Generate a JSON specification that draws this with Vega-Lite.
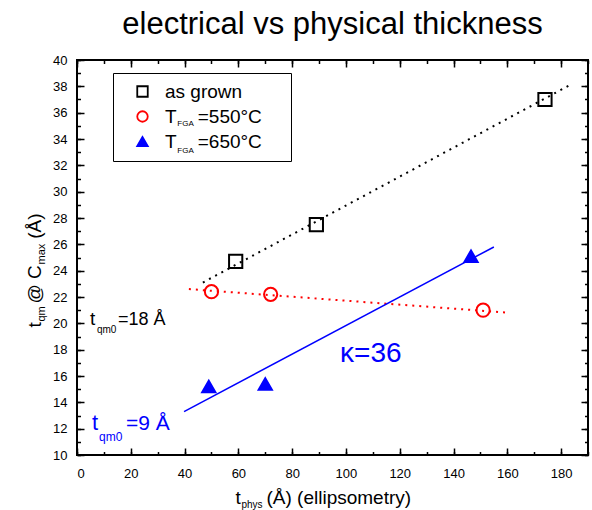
{
  "$schema": "https://vega.github.io/schema/vega-lite/v6.json",
  "autosize": {"type": "none"},
  "width": 511,
  "height": 395,
  "padding": {"left": 77, "top": 60, "right": 4, "bottom": 55},
  "background": "white",
  "title": {"text": "electrical vs physical thickness", "font": "Liberation Sans", "fontSize": 31, "fontWeight": "normal", "color": "black", "anchor": "middle", "baseline": "alphabetic", "offset": -11},
  "datasets": {
    "points": [
      {"series": "as grown", "phys": 59, "tqm": 24.7},
      {"series": "as grown", "phys": 89, "tqm": 27.5},
      {"series": "as grown", "phys": 174, "tqm": 37.0},
      {"series": "550", "phys": 50, "tqm": 22.4},
      {"series": "550", "phys": 72, "tqm": 22.2},
      {"series": "550", "phys": 151, "tqm": 21.0},
      {"series": "650", "phys": 49, "tqm": 15.2},
      {"series": "650", "phys": 70, "tqm": 15.4},
      {"series": "650", "phys": 146.5, "tqm": 25.1}
    ],
    "lines": [
      {"line": "as grown", "phys": 46.8, "tqm": 23.1},
      {"line": "as grown", "phys": 183.3, "tqm": 38.1},
      {"line": "550", "phys": 41.6, "tqm": 22.6},
      {"line": "550", "phys": 161, "tqm": 20.8},
      {"line": "650", "phys": 39.8, "tqm": 13.3},
      {"line": "650", "phys": 155, "tqm": 25.8}
    ],
    "one": [{"k": 1}],
    "subs": [
      {"sub": "FGA", "phys": 37.3, "tqm": 35.0},
      {"sub": "FGA", "phys": 37.3, "tqm": 32.95}
    ]
  },
  "config": {
    "view": {"stroke": "black", "strokeWidth": 2},
    "axis": {"domain": false, "grid": false, "tickColor": "black", "tickWidth": 1.5, "labelFont": "Liberation Sans", "labelFontSize": 13, "labelColor": "black", "labelOverlap": false, "titleFont": "Liberation Sans", "titleColor": "black", "titleFontWeight": "normal"},
    "text": {"font": "Liberation Sans"}
  },
  "resolve": {"axis": {"x": "independent", "y": "independent"}},
  "layer": [
    {
      "data": {"name": "lines"},
      "transform": [{"filter": "datum.line === 'as grown'"}],
      "mark": {"type": "line", "color": "black", "strokeWidth": 2, "strokeDash": [2, 5]},
      "encoding": {
        "x": {
          "field": "phys", "type": "quantitative",
          "scale": {"domain": [0, 190], "nice": false, "zero": false},
          "axis": {"orient": "bottom", "values": [0, 20, 40, 60, 80, 100, 120, 140, 160, 180], "tickSize": -7, "labelPadding": 19, "title": "t", "titleX": 158, "titleY": 48, "titleFontSize": 19, "titleAngle": 0, "titleAlign": "left", "titleBaseline": "alphabetic"}
        },
        "y": {
          "field": "tqm", "type": "quantitative",
          "scale": {"domain": [10, 40], "nice": false, "zero": false},
          "axis": {"orient": "left", "values": [10, 12, 14, 16, 18, 20, 22, 24, 26, 28, 30, 32, 34, 36, 38, 40], "tickSize": -7, "labelPadding": 17, "title": "t", "titleX": -37, "titleY": 267, "titleFontSize": 19, "titleAngle": 270, "titleAlign": "left", "titleBaseline": "alphabetic"}
        }
      }
    },
    {
      "data": {"name": "lines"},
      "transform": [{"filter": "datum.line === '550'"}],
      "mark": {"type": "line", "color": "#ff0000", "strokeWidth": 2, "strokeDash": [2, 5]},
      "encoding": {
        "x": {
          "field": "phys", "type": "quantitative",
          "scale": {"domain": [0, 190], "nice": false, "zero": false},
          "axis": {"orient": "bottom", "values": [0, 10, 20, 30, 40, 50, 60, 70, 80, 90, 100, 110, 120, 130, 140, 150, 160, 170, 180, 190], "tickSize": -3.5, "labels": false, "title": "phys", "titleX": 164, "titleY": 52, "titleFontSize": 10, "titleAngle": 0, "titleAlign": "left", "titleBaseline": "alphabetic"}
        },
        "y": {
          "field": "tqm", "type": "quantitative",
          "scale": {"domain": [10, 40], "nice": false, "zero": false},
          "axis": {"orient": "left", "values": [10, 11, 12, 13, 14, 15, 16, 17, 18, 19, 20, 21, 22, 23, 24, 25, 26, 27, 28, 29, 30, 31, 32, 33, 34, 35, 36, 37, 38, 39, 40], "tickSize": -3.5, "labels": false, "title": "qm", "titleX": -33, "titleY": 261, "titleFontSize": 11, "titleAngle": 270, "titleAlign": "left", "titleBaseline": "alphabetic"}
        }
      }
    },
    {
      "data": {"name": "lines"},
      "transform": [{"filter": "datum.line === '650'"}],
      "mark": {"type": "line", "color": "#0000ff", "strokeWidth": 1.5},
      "encoding": {
        "x": {
          "field": "phys", "type": "quantitative",
          "scale": {"domain": [0, 190], "nice": false, "zero": false},
          "axis": {"orient": "top", "values": [0, 20, 40, 60, 80, 100, 120, 140, 160, 180], "tickSize": -7, "labels": false, "title": "(Å) (ellipsometry)", "titleX": 189, "titleY": 443, "titleFontSize": 19, "titleAngle": 0, "titleAlign": "left", "titleBaseline": "alphabetic"}
        },
        "y": {
          "field": "tqm", "type": "quantitative",
          "scale": {"domain": [10, 40], "nice": false, "zero": false},
          "axis": {"orient": "right", "values": [10, 12, 14, 16, 18, 20, 22, 24, 26, 28, 30, 32, 34, 36, 38, 40], "tickSize": -7, "labels": false, "title": "@ C\u00a0\u00a0\u00a0\u00a0\u00a0(Å)", "titleX": -548, "titleY": 243, "titleFontSize": 19, "titleAngle": 270, "titleAlign": "left", "titleBaseline": "alphabetic"}
        }
      }
    },
    {
      "data": {"name": "points"},
      "mark": {"type": "point", "filled": false, "size": 175, "strokeWidth": 2, "opacity": 1},
      "encoding": {
        "x": {
          "field": "phys", "type": "quantitative",
          "scale": {"domain": [0, 190], "nice": false, "zero": false},
          "axis": {"orient": "top", "values": [0, 10, 20, 30, 40, 50, 60, 70, 80, 90, 100, 110, 120, 130, 140, 150, 160, 170, 180, 190], "tickSize": -3.5, "labels": false, "title": null}
        },
        "y": {
          "field": "tqm", "type": "quantitative",
          "scale": {"domain": [10, 40], "nice": false, "zero": false},
          "axis": {"orient": "right", "values": [10, 11, 12, 13, 14, 15, 16, 17, 18, 19, 20, 21, 22, 23, 24, 25, 26, 27, 28, 29, 30, 31, 32, 33, 34, 35, 36, 37, 38, 39, 40], "tickSize": -3.5, "labels": false, "title": "max", "titleX": -544, "titleY": 204, "titleFontSize": 11, "titleAngle": 270, "titleAlign": "left", "titleBaseline": "alphabetic"}
        },
        "stroke": {
          "field": "series", "type": "nominal",
          "scale": {"domain": ["as grown", "550", "650"], "range": ["#000000", "#ff0000", "#0000ff"]},
          "legend": {"orient": "none", "legendX": 36, "legendY": 13, "title": "MM", "titleOrient": "right", "titleColor": "transparent", "titleFontSize": 12, "titlePadding": 0, "padding": 9, "strokeColor": "black", "fillColor": "transparent", "labelFont": "Liberation Sans", "labelFontSize": 19, "labelColor": "black", "symbolSize": 110, "symbolStrokeWidth": 1.8, "rowPadding": 5, "labelOffset": 13, "symbolOffset": 11, "labelExpr": "datum.label === 'as grown' ? 'as grown' : 'T\u00a0\u00a0\u00a0\u00a0=' + datum.label + '°C'"}
        },
        "fill": {
          "field": "series", "type": "nominal",
          "scale": {"domain": ["as grown", "550", "650"], "range": ["transparent", "transparent", "#0000ff"]}
        },
        "shape": {
          "field": "series", "type": "nominal",
          "scale": {"domain": ["as grown", "550", "650"], "range": ["square", "circle", "triangle-up"]}
        }
      }
    },
    {
      "data": {"name": "one"},
      "mark": {"type": "text", "text": "t", "fontSize": 19, "color": "black", "align": "left", "baseline": "alphabetic"},
      "encoding": {"x": {"datum": 4.8, "type": "quantitative", "axis": null}, "y": {"datum": 19.9, "type": "quantitative", "axis": null}}
    },
    {
      "data": {"name": "one"},
      "mark": {"type": "text", "text": "qm0", "fontSize": 10, "color": "black", "align": "left", "baseline": "alphabetic"},
      "encoding": {"x": {"datum": 7.4, "type": "quantitative", "axis": null}, "y": {"datum": 19.3, "type": "quantitative", "axis": null}}
    },
    {
      "data": {"name": "one"},
      "mark": {"type": "text", "text": "=18 Å", "fontSize": 18, "color": "black", "align": "left", "baseline": "alphabetic"},
      "encoding": {"x": {"datum": 15.2, "type": "quantitative", "axis": null}, "y": {"datum": 19.9, "type": "quantitative", "axis": null}}
    },
    {
      "data": {"name": "one"},
      "mark": {"type": "text", "text": "t", "fontSize": 22, "color": "#0000ff", "align": "left", "baseline": "alphabetic"},
      "encoding": {"x": {"datum": 5.6, "type": "quantitative", "axis": null}, "y": {"datum": 11.9, "type": "quantitative", "axis": null}}
    },
    {
      "data": {"name": "one"},
      "mark": {"type": "text", "text": "qm0", "fontSize": 12, "color": "#0000ff", "align": "left", "baseline": "alphabetic"},
      "encoding": {"x": {"datum": 8.2, "type": "quantitative", "axis": null}, "y": {"datum": 11.1, "type": "quantitative", "axis": null}}
    },
    {
      "data": {"name": "one"},
      "mark": {"type": "text", "text": "=9 Å", "fontSize": 21, "color": "#0000ff", "align": "left", "baseline": "alphabetic"},
      "encoding": {"x": {"datum": 18.2, "type": "quantitative", "axis": null}, "y": {"datum": 11.9, "type": "quantitative", "axis": null}}
    },
    {
      "data": {"name": "one"},
      "mark": {"type": "text", "text": "κ=36", "fontSize": 28, "color": "#0000ff", "align": "left", "baseline": "alphabetic"},
      "encoding": {"x": {"datum": 97.8, "type": "quantitative", "axis": null}, "y": {"datum": 17.1, "type": "quantitative", "axis": null}}
    },
    {
      "data": {"name": "subs"},
      "mark": {"type": "text", "fontSize": 8, "fontWeight": "normal", "color": "black", "align": "left", "baseline": "alphabetic"},
      "encoding": {
        "x": {"field": "phys", "type": "quantitative", "axis": null},
        "y": {"field": "tqm", "type": "quantitative", "axis": null},
        "text": {"field": "sub"}
      }
    }
  ]
}
